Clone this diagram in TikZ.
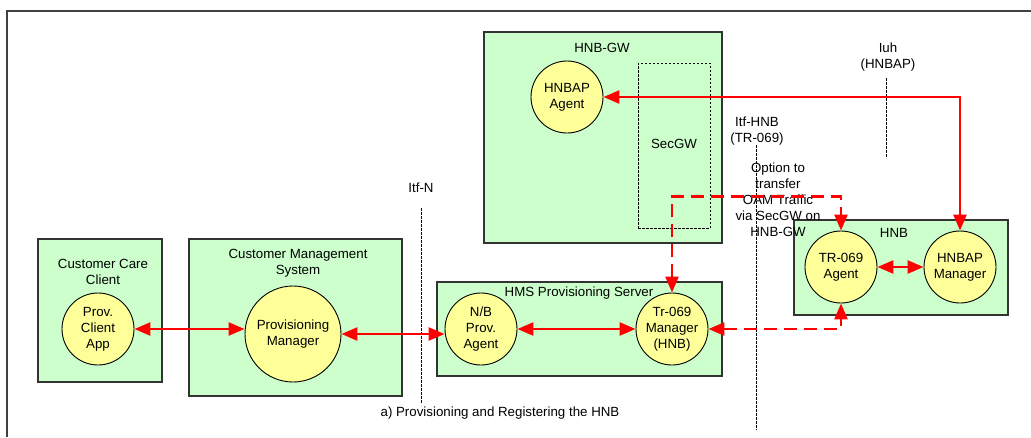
\documentclass[tikz,border=0pt]{standalone}
\usepackage{fontspec}
\setmainfont{Liberation Sans}
\usetikzlibrary{arrows.meta}
\definecolor{boxgreen}{HTML}{CCFFCC}
\definecolor{agentyellow}{HTML}{FFFF99}
\definecolor{framegray}{HTML}{404040}
\definecolor{linkred}{HTML}{FF0000}
\tikzset{
  txt/.style={font=\fontsize{13.3}{16}\selectfont, align=center, inner sep=0pt},
  greenbox/.style={draw=black!80, fill=boxgreen, line width=1.2pt, inner sep=0pt},
  secbox/.style={draw=black, line width=0.8pt, dash pattern=on 2.5pt off 1.5pt, inner sep=0pt},
  agent/.style={circle, draw=black, line width=0.9pt, fill=agentyellow, inner sep=0pt,
    minimum size=72pt, txt},
  link/.style={draw=linkred, line width=2.6pt,
    {Triangle[length=16pt,width=13pt]}-{Triangle[length=16pt,width=13pt]}},
  dlink/.style={link, dash pattern=on 13pt off 7pt},
  iface/.style={draw=black, line width=0.8pt, dash pattern=on 2.5pt off 1.5pt},
}
\begin{document}
\begin{tikzpicture}[x=1pt,y=-1pt]
\useasboundingbox (0,0) rectangle (1031,437);
% frame
\coordinate (fr1) at (1031,11);
\coordinate (fr2) at (7,11);
\coordinate (fr3) at (7,437);
\draw[framegray, line width=1.5pt] (fr1) -- (fr2) -- (fr3);

% boxes
\node[greenbox, minimum width=238pt, minimum height=211pt] (hnbgw) at (603,137.5) {};
\node[secbox, minimum width=72pt, minimum height=165pt] (secgw) at (674,145.5) {};
\node[greenbox, minimum width=124pt, minimum height=143pt] (ccc) at (100,310.5) {};
\node[greenbox, minimum width=213pt, minimum height=157pt] (cms) at (295.5,317.5) {};
\node[greenbox, minimum width=285pt, minimum height=94pt] (hms) at (579.5,329) {};
\node[greenbox, minimum width=214pt, minimum height=95pt] (hnb) at (901,267.5) {};

% box labels
\node[txt] (hnbgwlbl) at (602,48) {HNB-GW};
\node[txt] (secgwlbl) at (674,144) {SecGW};
\node[txt] (ccclbl) at (103,272) {Customer Care\\Client};
\node[txt] (cmslbl) at (298,263) {Customer Management\\System};
\node[txt] (hmslbl) at (579,293) {HMS Provisioning Server};
\node[txt] (hnblbl) at (894,233) {HNB};

% interface labels
\node[txt] (itfnlbl) at (421,188) {Itf-N};
\node[txt] (iuhlbl) at (888,57) {Iuh\\(HNBAP)};
\node[txt] (itfhnblbl) at (757,131) {Itf-HNB\\(TR-069)};
\node[txt] (optlbl) at (778,200) {Option to\\transfer\\OAM Traffic\\via SecGW on\\HNB-GW};
\node[txt] (caption) at (500,413) {a) Provisioning and Registering the HNB};

% interface lines
\coordinate (itfnA) at (421,208);
\coordinate (itfnB) at (421,403);
\coordinate (iuhA) at (886,78);
\coordinate (iuhB) at (886,157);
\coordinate (itfhA) at (756,145);
\coordinate (itfhB) at (756,430);
\draw[iface] (itfnA) -- (itfnB);
\draw[iface] (iuhA) -- (iuhB);
\draw[iface] (itfhA) -- (itfhB);

% agents
\node[agent] (hagent) at (567,97) {HNBAP\\Agent};
\node[agent] (app) at (98,329) {Prov.\\Client\\App};
\node[agent, minimum size=96pt] (pm) at (293,334) {Provisioning\\Manager};
\node[agent] (nb) at (481,329) {N/B\\Prov.\\Agent};
\node[agent] (trm) at (672,329) {Tr-069\\Manager\\(HNB)};
\node[agent] (tra) at (841,267) {TR-069\\Agent};
\node[agent] (hman) at (960,267) {HNBAP\\Manager};

% connectors
\draw[link] (app.east) -- (app.east -| pm.west);
\draw[link] (pm.east) -- (pm.east -| nb.west);
\draw[link] (nb.east) -- (trm.west);
\draw[link] (tra.east) -- (hman.west);
\draw[link] (hagent.east) -| (hman.north);
\draw[dlink] (trm.east) -| (tra.south);
\draw[dlink] (trm.north) -- ++(0,-96) -| (tra.north);
\end{tikzpicture}
\end{document}
